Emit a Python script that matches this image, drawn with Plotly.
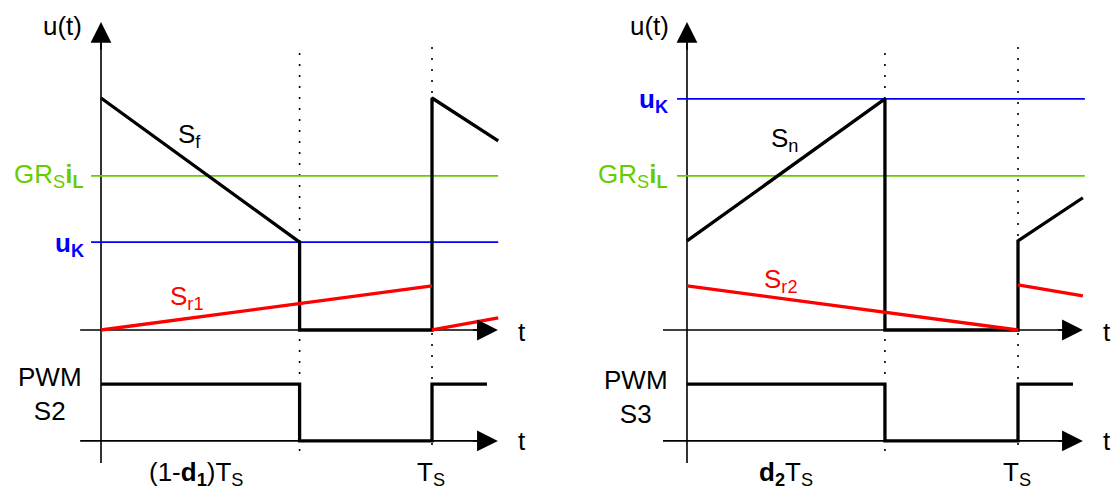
import plotly.graph_objects as go

# ---------------- data (time in units of Ts, voltage in arbitrary units) ----------------
# left panel: falling-slope modulation, PWM S2
t_wave_l = [0, 0.6, 0.6, 1.0, 1.0, 1.2]
u_wave_l = [1.0, 0.379, 0.0, 0.0, 1.0, 0.815]
t_ramp_l1 = [0, 1.0]
u_ramp_l1 = [0.0, 0.19]
t_ramp_l2 = [1.0, 1.2]
u_ramp_l2 = [0.0, 0.052]
uK_l = 0.379
grsil_l = 0.664
t_pwm_l = [0, 0.6, 0.6, 1.0, 1.0, 1.166]
s_pwm_l = [1, 1, 0, 0, 1, 1]
t_marks_l = [0.6, 1.0]

# right panel: rising-slope modulation, PWM S3
t_wave_r = [0, 0.598, 0.598, 1.0, 1.0, 1.196]
u_wave_r = [0.384, 0.996, 0.0, 0.0, 0.384, 0.570]
t_ramp_r1 = [0, 1.0]
u_ramp_r1 = [0.19, 0.0]
t_ramp_r2 = [1.0, 1.196]
u_ramp_r2 = [0.194, 0.147]
uK_r = 0.996
grsil_r = 0.664
t_pwm_r = [0, 0.598, 0.598, 1.0, 1.0, 1.166]
s_pwm_r = [1, 1, 0, 0, 1, 1]
t_marks_r = [0.598, 1.0]

PWM_BASE = -0.478
PWM_H = 0.245

FONT = "Liberation Sans, Arial, Helvetica, sans-serif"
FS = 26
GREEN = "#66CC00"
BLUE = "#0000FF"
RED = "#FF0000"

fig = go.Figure()


def add_panel(xa, ya, t_wave, u_wave, tr1, ur1, tr2, ur2, uK, grsil, t_pwm, s_pwm,
              t_marks, ax_left, ax_tip, lvl_left, lvl_right):
    kw = dict(xaxis=xa, yaxis=ya, mode="lines", hoverinfo="skip", showlegend=False)
    # dotted markers
    for tm, top in zip(t_marks, [1.194, 1.22]):
        fig.add_trace(go.Scatter(x=[tm, tm], y=[top, -0.53],
                                 line=dict(color="black", width=1.6, dash="2px,9px"), **kw))
    # axis lines
    fig.add_trace(go.Scatter(x=[0, 0], y=[-0.573, 1.30], line=dict(color="black", width=1.6), **kw))
    for lv in [0, PWM_BASE]:
        fig.add_trace(go.Scatter(x=[ax_left, ax_tip - 0.03], y=[lv, lv],
                                 line=dict(color="black", width=1.6), **kw))
    # threshold levels
    fig.add_trace(go.Scatter(x=[lvl_left, lvl_right], y=[grsil, grsil], line=dict(color=GREEN, width=1.8), **kw))
    fig.add_trace(go.Scatter(x=[lvl_left, lvl_right], y=[uK, uK], line=dict(color=BLUE, width=1.8), **kw))
    # waveform
    fig.add_trace(go.Scatter(x=t_wave, y=u_wave, line=dict(color="black", width=3.3), **kw))
    # ramps
    fig.add_trace(go.Scatter(x=tr1, y=ur1, line=dict(color=RED, width=3.3), **kw))
    fig.add_trace(go.Scatter(x=tr2, y=ur2, line=dict(color=RED, width=3.3), **kw))
    # PWM
    fig.add_trace(go.Scatter(x=t_pwm, y=[PWM_BASE + PWM_H * s for s in s_pwm],
                             line=dict(color="black", width=3.3), **kw))


add_panel("x", "y", t_wave_l, u_wave_l, t_ramp_l1, u_ramp_l1, t_ramp_l2, u_ramp_l2,
          uK_l, grsil_l, t_pwm_l, s_pwm_l, t_marks_l, -0.063, 1.199, -0.03, 1.2)
add_panel("x2", "y2", t_wave_r, u_wave_r, t_ramp_r1, u_ramp_r1, t_ramp_r2, u_ramp_r2,
          uK_r, grsil_r, t_pwm_r, s_pwm_r, t_marks_r, -0.0725, 1.196, -0.03, 1.202)

ann = []


def arrow(xr, yr, x, y, ax, ay):
    ann.append(dict(xref=xr, yref=yr, axref=xr, ayref=yr, x=x, y=y, ax=ax, ay=ay,
                    text="", showarrow=True, arrowhead=2, arrowsize=2.6, arrowwidth=1.6,
                    arrowcolor="black", standoff=0, startstandoff=0,
                    font=dict(family=FONT, size=FS)))


def label(xr, yr, x, y, text, color="black", xanchor="center", yanchor="middle", size=FS, align="center"):
    ann.append(dict(xref=xr, yref=yr, x=x, y=y, text=text, showarrow=False, xanchor=xanchor,
                    yanchor=yanchor, align=align, font=dict(family=FONT, size=size, color=color)))


for xr, yr, al, tip in [("x", "y", -0.063, 1.199), ("x2", "y2", -0.0725, 1.196)]:
    arrow(xr, yr, 0, 1.328, 0, 1.20)
    arrow(xr, yr, tip, 0, tip - 0.08, 0)
    arrow(xr, yr, tip, PWM_BASE, tip - 0.08, PWM_BASE)

# left labels
label("x", "y", -0.115, 1.31, "u(t)")
label("x", "y", 0.266, 0.84, "S<sub>f</sub>")
label("x", "y", -0.045, 0.664, "GR<sub>S</sub><b>i</b><sub><b>L</b></sub>", color=GREEN, xanchor="right")
label("x", "y", -0.045, 0.368, "<b>u</b><sub><b>K</b></sub>", color=BLUE, xanchor="right")
label("x", "y", 0.26, 0.14, "S<sub>r1</sub>", color=RED)
label("x", "y", -0.154, -0.276, "PWM<br>S2")
label("x", "y", 1.272, -0.01, "t")
label("x", "y", 1.272, -0.478, "t")
label("x", "y", 0.287, -0.62, "(1-<b>d</b><sub><b>1</b></sub>)T<sub>S</sub>")
label("x", "y", 0.997, -0.62, "T<sub>S</sub>")

# right labels
label("x2", "y2", -0.112, 1.31, "u(t)")
label("x2", "y2", 0.296, 0.82, "S<sub>n</sub>")
label("x2", "y2", -0.051, 0.99, "<b>u</b><sub><b>K</b></sub>", color=BLUE, xanchor="right")
label("x2", "y2", -0.051, 0.664, "GR<sub>S</sub><b>i</b><sub><b>L</b></sub>", color=GREEN, xanchor="right")
label("x2", "y2", 0.284, 0.215, "S<sub>r2</sub>", color=RED)
label("x2", "y2", -0.154, -0.289, "PWM<br>S3")
label("x2", "y2", 1.269, -0.01, "t")
label("x2", "y2", 1.269, -0.478, "t")
label("x2", "y2", 0.299, -0.62, "<b>d</b><sub><b>2</b></sub>T<sub>S</sub>")
label("x2", "y2", 0.997, -0.62, "T<sub>S</sub>")

ax_common = dict(visible=False, showgrid=False, zeroline=False, fixedrange=True)
fig.update_layout(
    width=1114, height=490, autosize=False,
    margin=dict(l=0, r=0, t=0, b=0),
    paper_bgcolor="white", plot_bgcolor="white",
    font=dict(family=FONT, size=FS, color="black"),
    xaxis=dict(domain=[0, 0.5], range=[-0.3051, 1.3776], anchor="y", **ax_common),
    xaxis2=dict(domain=[0.5, 1.0], range=[-0.3927, 1.2900], anchor="y2", **ax_common),
    yaxis=dict(domain=[0, 1], range=[-0.6897, 1.4224], anchor="x", **ax_common),
    yaxis2=dict(domain=[0, 1], range=[-0.6897, 1.4224], anchor="x2", **ax_common),
    annotations=ann,
    showlegend=False,
)

fig.write_html("out.html", config={"displayModeBar": False},
               post_script="document.body.style.margin='0';")
